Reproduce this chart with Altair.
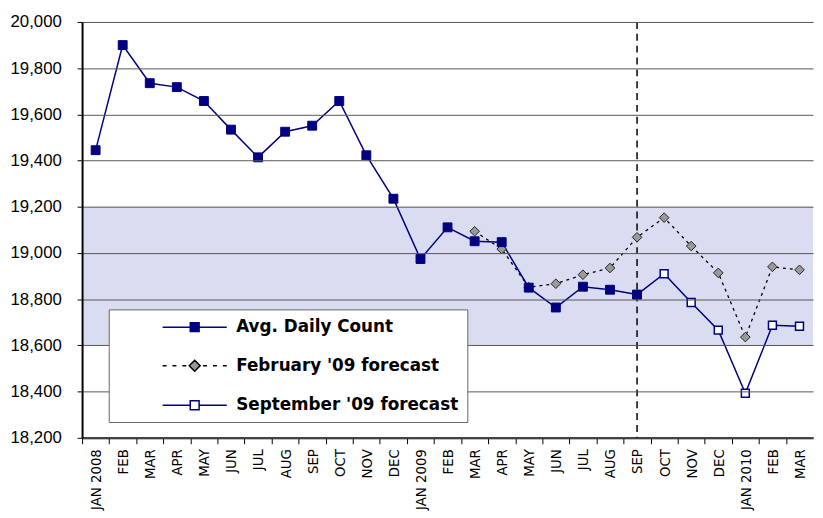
import altair as alt
import pandas as pd

# ---- data ----
months = ["JAN 2008", "FEB 2008", "MAR 2008", "APR 2008", "MAY 2008", "JUN 2008",
          "JUL 2008", "AUG 2008", "SEP 2008", "OCT 2008", "NOV 2008", "DEC 2008",
          "JAN 2009", "FEB 2009", "MAR 2009", "APR 2009", "MAY 2009", "JUN 2009",
          "JUL 2009", "AUG 2009", "SEP 2009", "OCT 2009", "NOV 2009", "DEC 2009",
          "JAN 2010", "FEB 2010", "MAR 2010"]

actual_months = months[0:21]
actual_values = [19445, 19900, 19735, 19718, 19658, 19534, 19414, 19525, 19551,
                 19658, 19423, 19235, 18974, 19111, 19051, 19047, 18850, 18764,
                 18854, 18841, 18820]

feb_months = months[14:27]
feb_values = [19094, 19017, 18852, 18867, 18906, 18935, 19068, 19153, 19030,
              18914, 18636, 18940, 18927]

sep_months = months[20:27]
sep_values = [18820, 18910, 18786, 18666, 18393, 18687, 18683]

series_names = ["Avg. Daily Count", "February '09 forecast", "September '09 forecast"]

band_low = [18600]
band_high = [19200]
marker_month = ["SEP 2009"]
y_ticks = list(range(18200, 20001, 200))

act_df = pd.DataFrame({"month": actual_months, "value": actual_values})
feb_df = pd.DataFrame({"month": feb_months, "value": feb_values})
sep_df = pd.DataFrame({"month": sep_months, "value": sep_values})
all_df = pd.concat([
    act_df.assign(series=series_names[0]),
    feb_df.assign(series=series_names[1]),
    sep_df.assign(series=series_names[2]),
], ignore_index=True)
band_df = pd.DataFrame({"lo": band_low, "hi": band_high})
rule_df = pd.DataFrame({"month": marker_month})

NAVY = "#000080"
W = 740
HALF_STEP = W / len(months) / 2

x_enc = alt.X(
    "month:N",
    scale=alt.Scale(type="band", domain=months, paddingInner=0, paddingOuter=0),
    axis=alt.Axis(
        title=None, labelAngle=-90, tickSize=6, tickOffset=-HALF_STEP, labelOffset=HALF_STEP,
        tickColor="black", domainColor="black", domainWidth=2, grid=False,
        labelFont="DejaVu Sans Condensed", labelFontSize=15, labelColor="black",
        labelPadding=5, labelOverlap=False,
        labelExpr="indexof(datum.value, 'JAN') == 0 ? datum.value : slice(datum.value, 0, 3)",
    ),
)
y_scale = alt.Scale(domain=[18200, 20000], nice=False, zero=False)
y_enc = alt.Y(
    "value:Q",
    scale=y_scale,
    axis=alt.Axis(
        title=None, values=y_ticks, format=",.0f", grid=True, gridColor="#555555",
        gridWidth=1, tickSize=5, tickColor="black", domainColor="black",
        domainWidth=2, labelFont="Liberation Sans", labelFontSize=17,
        labelColor="black", labelPadding=16, zindex=1,
    ),
)

band = alt.Chart(band_df).mark_rect(color="#DADCF2").encode(
    y=alt.Y("lo:Q", scale=y_scale),
    y2="hi:Q",
)

rule = alt.Chart(rule_df).mark_rule(color="black", strokeDash=[7, 5], strokeWidth=1.5).encode(
    x=x_enc
)

feb_line = alt.Chart(feb_df).mark_line(color="black", strokeWidth=1.3, strokeDash=[3, 4]).encode(x=x_enc, y=y_enc)
sep_line = alt.Chart(sep_df).mark_line(color=NAVY, strokeWidth=1.5).encode(x=x_enc, y=y_enc)
act_line = alt.Chart(act_df).mark_line(color=NAVY, strokeWidth=1.5).encode(x=x_enc, y=y_enc)

feb_pts = alt.Chart(feb_df).mark_point(shape="diamond", filled=True, fill="#9a9a9a", stroke="#222222",
                                       strokeWidth=1, size=95, opacity=1).encode(x=x_enc, y=y_enc)
sep_pts = alt.Chart(sep_df).mark_point(shape="square", filled=True, fill="white", stroke=NAVY,
                                       strokeWidth=1.5, size=64, opacity=1).encode(x=x_enc, y=y_enc)
act_pts = alt.Chart(act_df).mark_point(shape="square", filled=True, fill=NAVY, stroke=NAVY,
                                       strokeWidth=1, size=81, opacity=1).encode(x=x_enc, y=y_enc)

# legend symbols: line + marker drawn as custom symbol paths (unit = 8 px)
p_act = "M-4.06,0H-0.56M0.56,0H4.06M-0.56,-0.56H0.56V0.56H-0.56Z"
p_feb = ("M-4.06,0H-3.56M-2.81,0H-2.31M-1.56,0H-1.06"
         "M1.06,0H1.56M2.31,0H2.81M3.56,0H4.06"
         "M0,-0.69L0.69,0L0,0.69L-0.69,0Z")
p_sep = "M-4.06,0H-0.56M0.56,0H4.06M-0.56,-0.56H0.56V0.56H-0.56Z"

leg = alt.Legend(
    orient="none", legendX=27, legendY=291, symbolSize=256, symbolStrokeWidth=1.5,
    symbolOffset=69, labelOffset=33, labelFont="DejaVu Sans", labelFontWeight="bold",
    labelFontSize=17, labelColor="black", padding=9, rowPadding=22,
    fillColor="white", strokeColor="#666666", symbolOpacity=1, labelLimit=500,
    zindex=2,
)

legend_layer = alt.Chart(all_df).mark_point(filled=True, opacity=0).encode(
    x=x_enc, y=y_enc,
    shape=alt.Shape("series:N", title=None, scale=alt.Scale(domain=series_names, range=[p_act, p_feb, p_sep]), legend=leg),
    fill=alt.Fill("series:N", title=None, scale=alt.Scale(domain=series_names, range=[NAVY, "#9a9a9a", "white"]), legend=leg),
    stroke=alt.Stroke("series:N", title=None, scale=alt.Scale(domain=series_names, range=[NAVY, "black", NAVY]), legend=leg),
)

chart = alt.layer(
    band, rule, feb_line, sep_line, act_line, feb_pts, sep_pts, act_pts, legend_layer
).properties(
    width=W, height=421, padding=2,
).configure_view(stroke=None)

chart.save("out.html", embed_options={"renderer": "svg", "actions": False})
